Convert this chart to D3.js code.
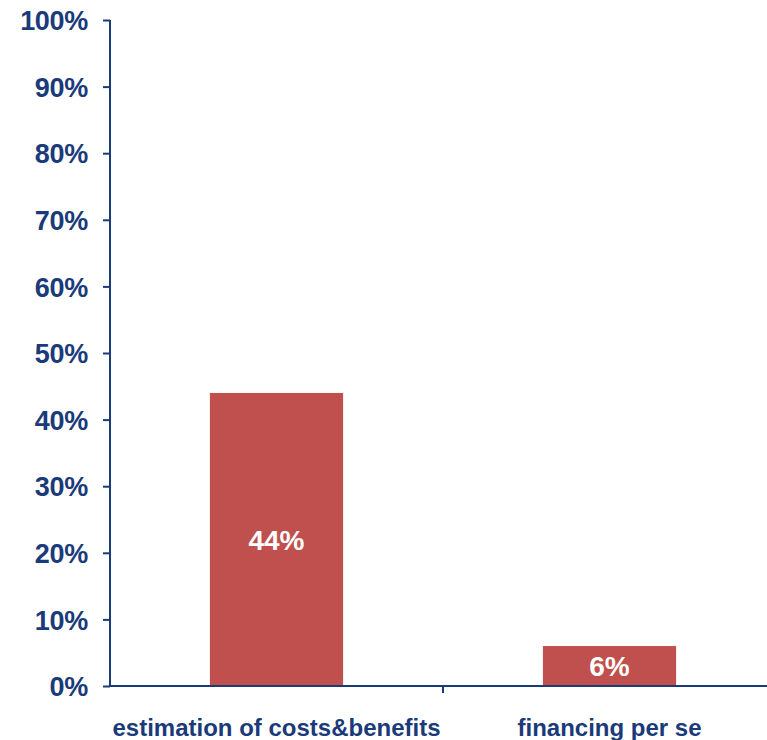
<!DOCTYPE html>
<html>
<head>
<meta charset="utf-8">
<script src="https://cdn.jsdelivr.net/npm/d3@7"></script>
<style>
  body { margin: 0; background: #fff; }
  svg { display: block; }
</style>
</head>
<body>
<div id="chart"></div>
<script>
// chart data
var categories = ["estimation of costs&benefits", "financing per se"];
var values = [44, 6];
var yTicks = [0, 10, 20, 30, 40, 50, 60, 70, 80, 90, 100];

var width = 767, height = 740;
var navy = "#1b3a7a";
var barColor = "#c0504d";
var font = "'Liberation Sans', Arial, sans-serif";

var svg = d3.select("#chart").append("svg")
    .attr("width", width)
    .attr("height", height);

// x: category bands, y: percentage
var x = d3.scaleBand()
    .domain(categories)
    .range([110, 776])
    .paddingInner(0.6)
    .paddingOuter(0.3);

var xTick = d3.scaleBand()
    .domain(categories)
    .range([110, 776]);

var y = d3.scaleLinear().domain([0, 100]).range([686, 20]);

// y axis
var yAxis = svg.append("g")
    .attr("transform", "translate(110,0)")
    .call(d3.axisLeft(y).tickValues(yTicks).tickSize(7).tickPadding(15)
        .tickFormat(function(d){ return d + "%"; }));
yAxis.select(".domain").attr("stroke", navy).attr("stroke-width", 2).attr("d", "M0," + y(100) + "V" + y(0));
yAxis.selectAll(".tick line").attr("stroke", navy).attr("stroke-width", 2);
yAxis.selectAll("text")
    .attr("fill", navy)
    .attr("dy", "0.36em")
    .style("font-family", font)
    .style("font-weight", "bold")
    .style("font-size", "27px")
    .style("letter-spacing", "-0.3px");

// bars
svg.selectAll(".bar")
    .data(values)
    .enter()
    .append("rect")
    .attr("class", "bar")
    .attr("x", function(d, i){ return x(categories[i]); })
    .attr("width", x.bandwidth())
    .attr("y", function(d){ return y(d); })
    .attr("height", function(d){ return y(0) - y(d); })
    .attr("fill", barColor);

// value labels inside bars
svg.selectAll(".val")
    .data(values)
    .enter()
    .append("text")
    .attr("class", "val")
    .attr("x", function(d, i){ return x(categories[i]) + x.bandwidth() / 2; })
    .attr("y", function(d){ return (y(d) + y(0)) / 2; })
    .attr("dy", "0.36em")
    .attr("text-anchor", "middle")
    .attr("fill", "#fff")
    .style("font-family", font)
    .style("font-weight", "bold")
    .style("font-size", "28px")
    .text(function(d){ return d + "%"; });

// x axis line and tick between categories
svg.append("line")
    .attr("x1", 110).attr("x2", width)
    .attr("y1", y(0)).attr("y2", y(0))
    .attr("stroke", navy).attr("stroke-width", 2);

svg.selectAll(".xtick")
    .data(categories.slice(1))
    .enter()
    .append("line")
    .attr("x1", function(d){ return xTick(d); })
    .attr("x2", function(d){ return xTick(d); })
    .attr("y1", y(0)).attr("y2", y(0) + 7)
    .attr("stroke", navy).attr("stroke-width", 2);

// category labels
svg.selectAll(".cat")
    .data(categories)
    .enter()
    .append("text")
    .attr("class", "cat")
    .attr("x", function(d){ return xTick(d) + xTick.bandwidth() / 2; })
    .attr("y", 736)
    .attr("text-anchor", "middle")
    .attr("fill", navy)
    .style("font-family", font)
    .style("font-weight", "bold")
    .style("font-size", "24px")
    .text(function(d){ return d; });
</script>
</body>
</html>
